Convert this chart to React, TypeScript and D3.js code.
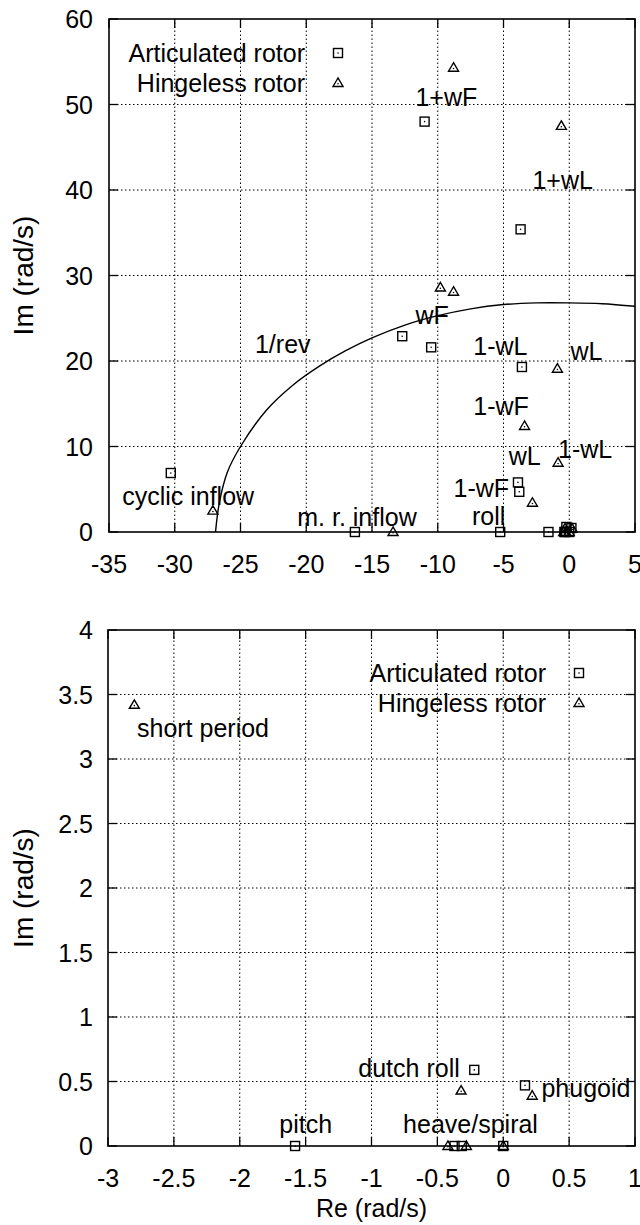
import React from "react";
import * as d3 from "d3";

// ---- data (Re, Im in rad/s) ----
const articulated: [number, number][] = [
  [-30.3, 6.9], [-16.3, 0], [-12.7, 22.9], [-11.0, 48.0], [-10.5, 21.6],
  [-5.25, 0], [-3.7, 35.4], [-3.6, 19.3], [-3.9, 5.8], [-3.8, 4.7],
  [-1.58, 0], [-0.37, 0], [-0.315, 0], [0, 0], [-0.22, 0.59], [0.165, 0.47],
];
const hingeless: [number, number][] = [
  [-27.1, 2.5], [-13.4, 0], [-9.8, 28.6], [-8.8, 28.1], [-8.8, 54.3],
  [-0.6, 47.5], [-0.9, 19.1], [-3.4, 12.4], [-0.85, 8.1], [-2.8, 3.42],
  [-0.42, 0], [-0.28, 0], [0, 0], [-0.32, 0.43], [0.22, 0.39],
];
const oneRev: [number, number][] = [
  [-26.9, 0], [-26.6, 3.5], [-26.0, 7], [-25, 10], [-23, 14.3], [-21, 17.2],
  [-19, 19.4], [-17, 21.2], [-15, 22.7], [-12.5, 24.2], [-10, 25.3],
  [-7.5, 26.1], [-5, 26.6], [-2.5, 26.8], [0, 26.8], [2.5, 26.7], [5, 26.4],
];
const topXTicks = [-35, -30, -25, -20, -15, -10, -5, 0, 5];
const topYTicks = [0, 10, 20, 30, 40, 50, 60];
const botXTicks = [-3, -2.5, -2, -1.5, -1, -0.5, 0, 0.5, 1];
const botYTicks = [0, 0.5, 1, 1.5, 2, 2.5, 3, 3.5, 4];
const topLabels: [string, number, number, string][] = [
  ["1+wF", -11.7, 49.8, "start"], ["1+wL", -2.8, 40.1, "start"],
  ["wF", -11.7, 24.3, "start"], ["1/rev", -23.9, 20.9, "start"],
  ["1-wL", -7.3, 20.7, "start"], ["wL", 0.1, 20.1, "start"],
  ["1-wF", -7.3, 13.7, "start"], ["wL", -4.6, 7.8, "start"],
  ["1-wL", -0.85, 8.7, "start"], ["1-wF", -8.8, 4.1, "start"],
  ["roll", -7.4, 0.8, "start"], ["m. r. inflow", -11.6, 0.7, "end"],
  ["cyclic inflow", -34.0, 3.2, "start"],
];
const botLabels: [string, number, number, string][] = [
  ["short period", -2.78, 3.17, "start"], ["dutch roll", -1.1, 0.535, "start"],
  ["phugoid", 0.29, 0.38, "start"], ["pitch", -1.7, 0.1, "start"],
  ["heave/spiral", -0.76, 0.1, "start"],
];
const legendNames = ["Articulated rotor", "Hingeless rotor"];

const FONT = "'Liberation Sans', Arial, Helvetica, sans-serif";
const FS = 25;

function Square({ x, y }: { x: number; y: number }) {
  return (
    <g>
      <rect x={x - 4.5} y={y - 4.5} width={9} height={9} fill="none" stroke="#000" strokeWidth={1.4} />
      <circle cx={x} cy={y} r={0.8} fill="#000" />
    </g>
  );
}
function Tri({ x, y }: { x: number; y: number }) {
  return (
    <g>
      <path d={`M${x},${y - 5}L${x - 5},${y + 3.5}L${x + 5},${y + 3.5}Z`} fill="none" stroke="#000" strokeWidth={1.4} />
      <circle cx={x} cy={y + 0.8} r={0.8} fill="#000" />
    </g>
  );
}

type PanelProps = {
  x: d3.ScaleLinear<number, number>;
  y: d3.ScaleLinear<number, number>;
  xTicks: number[];
  yTicks: number[];
  labels: [string, number, number, string][];
  legendX: number;
  legendY: number;
  curve?: [number, number][];
  xLabel?: boolean;
};

function Panel({ x, y, xTicks, yTicks, labels, legendX, legendY, curve, xLabel }: PanelProps) {
  const [x0, x1] = x.range();
  const [y0, y1] = y.range(); // y0 bottom, y1 top
  const xd = x.domain();
  const yd = y.domain();
  const inside = (p: [number, number]) => p[0] >= xd[0] && p[0] <= xd[1] && p[1] >= yd[0] && p[1] <= yd[1];
  const fmt = (v: number) => String(v);
  const line = d3.line<[number, number]>().x((d) => x(d[0])).y((d) => y(d[1])).curve(d3.curveCatmullRom);
  return (
    <g fontFamily={FONT} fontSize={FS}>
      {/* grid */}
      {xTicks.slice(1, -1).map((t) => (
        <line key={"gx" + t} x1={x(t)} x2={x(t)} y1={y0} y2={y1} stroke="#000" strokeWidth={1} strokeDasharray="1.5,2.5" />
      ))}
      {yTicks.slice(1, -1).map((t) => (
        <line key={"gy" + t} x1={x0} x2={x1} y1={y(t)} y2={y(t)} stroke="#000" strokeWidth={1} strokeDasharray="1.5,2.5" />
      ))}
      {/* ticks */}
      {xTicks.map((t) => (
        <g key={"tx" + t}>
          <line x1={x(t)} x2={x(t)} y1={y0} y2={y0 - 9} stroke="#000" strokeWidth={1.3} />
          <line x1={x(t)} x2={x(t)} y1={y1} y2={y1 + 9} stroke="#000" strokeWidth={1.3} />
          <text x={x(t)} y={y0 + 32} textAnchor="middle" dominantBaseline="central">{fmt(t)}</text>
        </g>
      ))}
      {yTicks.map((t) => (
        <g key={"ty" + t}>
          <line x1={x0} x2={x0 + 9} y1={y(t)} y2={y(t)} stroke="#000" strokeWidth={1.3} />
          <line x1={x1} x2={x1 - 9} y1={y(t)} y2={y(t)} stroke="#000" strokeWidth={1.3} />
          <text x={93} y={y(t)} textAnchor="end" dominantBaseline="central">{fmt(t)}</text>
        </g>
      ))}
      <rect x={x0} y={y1} width={x1 - x0} height={y0 - y1} fill="none" stroke="#000" strokeWidth={1.6} />
      {curve && <path d={line(curve) || ""} fill="none" stroke="#000" strokeWidth={1.4} />}
      {articulated.filter(inside).map((p, i) => <Square key={"a" + i} x={x(p[0])} y={y(p[1])} />)}
      {hingeless.filter(inside).map((p, i) => <Tri key={"h" + i} x={x(p[0])} y={y(p[1])} />)}
      {labels.map(([s, lx, ly, anchor], i) => (
        <text key={"l" + i} x={x(lx)} y={y(ly)} textAnchor={anchor as any}>{s}</text>
      ))}
      {/* legend */}
      <text x={legendX - 33} y={legendY} textAnchor="end" dominantBaseline="central">{legendNames[0]}</text>
      <Square x={legendX} y={legendY} />
      <text x={legendX - 33} y={legendY + 30} textAnchor="end" dominantBaseline="central">{legendNames[1]}</text>
      <Tri x={legendX} y={legendY + 30} />
      <text transform={`translate(23,${(y0 + y1) / 2}) rotate(-90)`} textAnchor="middle" dominantBaseline="central" fontSize={28}>Im (rad/s)</text>
      {xLabel && (
        <text x={(x0 + x1) / 2} y={y0 + 62} textAnchor="middle" dominantBaseline="central">Re (rad/s)</text>
      )}
    </g>
  );
}

export default function App() {
  const xTop = d3.scaleLinear().domain([-35, 5]).range([109, 635]);
  const yTop = d3.scaleLinear().domain([0, 60]).range([532, 19]);
  const xBot = d3.scaleLinear().domain([-3, 1]).range([108, 635]);
  const yBot = d3.scaleLinear().domain([0, 4]).range([1146, 630]);
  return (
    <svg width={640} height={1225} style={{ position: "absolute", left: 0, top: 0, background: "#fff" }}>
      <rect width={640} height={1225} fill="#fff" />
      <Panel x={xTop} y={yTop} xTicks={topXTicks} yTicks={topYTicks} labels={topLabels} legendX={338} legendY={53} curve={oneRev} />
      <Panel x={xBot} y={yBot} xTicks={botXTicks} yTicks={botYTicks} labels={botLabels} legendX={579} legendY={673} xLabel />
    </svg>
  );
}
